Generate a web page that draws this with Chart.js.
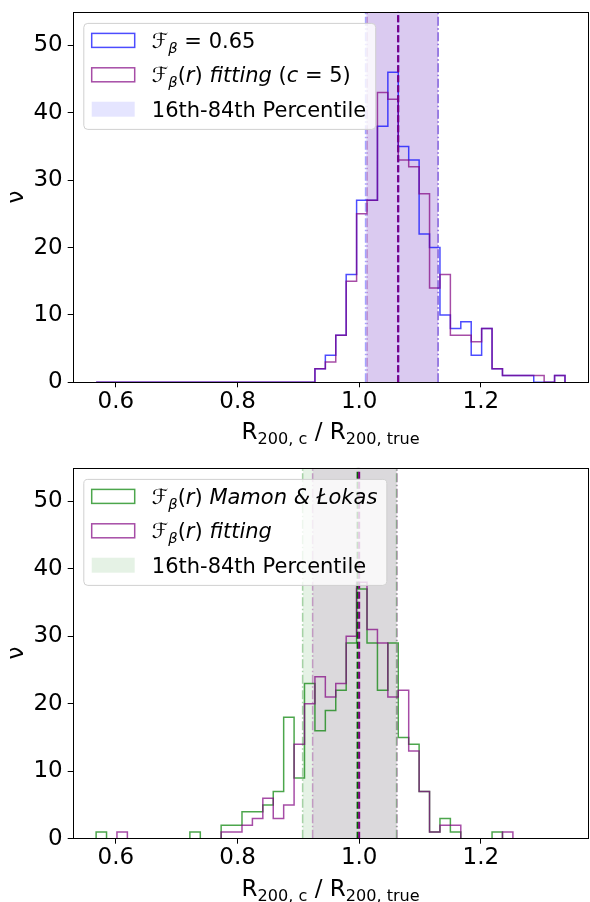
<!DOCTYPE html>
<html>
<head>
<meta charset="utf-8">
<script src="https://cdn.jsdelivr.net/npm/chart.js@4.4.1/dist/chart.umd.min.js"></script>
<style>
    html, body { margin: 0; padding: 0; background: #ffffff; }
    canvas { position: absolute; left: 0; }
</style>
</head>
<body>
<canvas id="top-chart" width="590" height="451" style="top:0px"></canvas>
<canvas id="bottom-chart" width="590" height="451" style="top:451px"></canvas>
<script>
// Shared histogram binning (45 bins)
const BIN_START = 0.5675;
const BIN_WIDTH = 0.01713;

const X_MIN = 0.529;
const X_MAX = 1.377;
const Y_MAX = 55;
const X_TICKS = [0.6, 0.8, 1.0, 1.2];
const Y_TICKS = [0, 10, 20, 30, 40, 50];

// Top panel: counts per bin
const TOP_CONST = [0, 0, 0, 0, 0, 0, 0, 0, 0, 0, 0, 0, 0, 0, 0, 0, 0, 0, 0, 0, 0,
    2, 4, 7, 16, 27, 27, 38, 46, 35, 33, 22, 20, 10, 8, 9, 4, 8, 2, 1, 1, 1, 0, 0, 1];
const TOP_FIT = [0, 0, 0, 0, 0, 0, 0, 0, 0, 0, 0, 0, 0, 0, 0, 0, 0, 0, 0, 0, 0,
    2, 3, 7, 15, 25, 27, 43, 42, 33, 32, 28, 14, 16, 7, 7, 6, 8, 2, 1, 1, 1, 1, 0, 1];
// [16th percentile, median, 84th percentile]
const TOP_CONST_STATS = [1.0105, 1.0641, 1.1298];
const TOP_FIT_STATS = [1.0131, 1.0641, 1.1298];

// Bottom panel: counts per bin
const BOTTOM_ML = [1, 0, 0, 0, 0, 0, 0, 0, 0, 1, 0, 0, 2, 2, 4, 4, 5, 7, 18, 9,
    23, 16, 19, 22, 29, 37, 29, 22, 29, 15, 14, 7, 1, 3, 1, 0, 0, 0, 1, 0, 0, 0, 0, 0, 0];
const BOTTOM_FIT = [0, 0, 1, 0, 0, 0, 0, 0, 0, 0, 0, 0, 1, 1, 2, 3, 6, 3, 5, 14,
    20, 24, 21, 23, 30, 38, 31, 29, 21, 22, 13, 7, 1, 2, 2, 0, 0, 0, 0, 1, 0, 0, 0, 0, 0];
const BOTTOM_ML_STATS = [0.907, 0.9974, 1.0614];
const BOTTOM_FIT_STATS = [0.9234, 1.0, 1.0625];

const FONT = "'DejaVu Sans', 'Liberation Sans', sans-serif";
const TICK_SIZE = 23;
const LEGEND_SIZE = 21;

// Build the step outline of a histogram from its counts
function stepPoints(counts) {
    const pts = [{ x: BIN_START, y: 0 }];
    counts.forEach((c, i) => pts.push({ x: BIN_START + i * BIN_WIDTH, y: c }));
    pts.push({ x: BIN_START + counts.length * BIN_WIDTH, y: 0 });
    return pts;
}

function vline(value, color, width, dash, order) {
    return {
        data: [{ x: value, y: 0 }, { x: value, y: Y_MAX }],
        showLine: true, borderColor: color, borderWidth: width, borderDash: dash,
        pointRadius: 0, fill: false, order: order
    };
}

function band(stats, color) {
    return {
        data: [{ x: stats[0], y: Y_MAX }, { x: stats[2], y: Y_MAX }],
        showLine: true, borderColor: 'transparent', borderWidth: 0,
        backgroundColor: color, pointRadius: 0, fill: 'origin', order: 8
    };
}

function hist(counts, color, order) {
    return {
        data: stepPoints(counts), showLine: true, stepped: true,
        borderColor: color, borderWidth: 1.5, pointRadius: 0, fill: false,
        borderJoinStyle: 'miter', order: order
    };
}

// Draw a list of text runs (italic / subscript) starting at x
function drawRuns(ctx, runs, x, y, size, measureOnly) {
    let cx = x;
    runs.forEach(r => {
        const s = r.sub ? size * 0.7 : size;
        ctx.font = (r.it ? 'italic ' : '') + s + 'px ' + FONT;
        if (!measureOnly) ctx.fillText(r.t, cx, y + (r.sub ? size * 0.22 : 0));
        cx += ctx.measureText(r.t).width;
    });
    return cx - x;
}

const DASH_DOT = [9, 2.5, 1.5, 2.5];
const DASHED = [7, 3];

// axes box, axis titles and legend
function makeDecor(legend) {
    return {
        id: 'decor',
        afterDraw(chart) {
            const ctx = chart.ctx;
            const a = chart.chartArea;
            ctx.save();
            ctx.strokeStyle = '#000';
            ctx.lineWidth = 1;
            ctx.strokeRect(Math.round(a.left) + 0.5, Math.round(a.top) + 0.5,
                Math.round(a.right - a.left) - 1, Math.round(a.bottom - a.top) - 1);

            // y label
            ctx.fillStyle = '#000';
            ctx.font = TICK_SIZE + 'px ' + FONT;
            ctx.save();
            ctx.translate(23.3, (a.top + a.bottom) / 2);
            ctx.rotate(-Math.PI / 2);
            ctx.textAlign = 'center';
            ctx.textBaseline = 'alphabetic';
            ctx.fillText('\u03bd', 0, 0);
            ctx.restore();

            // x label with subscripts
            ctx.textAlign = 'left';
            ctx.textBaseline = 'alphabetic';
            const xl = [
                { t: 'R' }, { t: '200, c', sub: true }, { t: ' / R' }, { t: '200, true', sub: true }
            ];
            const w = drawRuns(ctx, xl, 0, 0, TICK_SIZE, true);
            drawRuns(ctx, xl, (a.left + a.right) / 2 - w / 2, a.bottom + 57, TICK_SIZE, false);

            // legend
            let maxW = 0;
            legend.forEach(e => { maxW = Math.max(maxW, drawRuns(ctx, e.runs, 0, 0, LEGEND_SIZE, true)); });
            const bx = a.left + 10.6, by = a.top + 11.2;
            const bw = 68.5 + maxW + 9, bh = 106;
            ctx.beginPath();
            ctx.roundRect(bx + 0.5, by + 0.5, bw, bh, 4);
            ctx.fillStyle = 'rgba(255,255,255,0.8)';
            ctx.fill();
            ctx.strokeStyle = '#d0d0d0';
            ctx.lineWidth = 1;
            ctx.stroke();
            legend.forEach((e, i) => {
                const cy = by + 17.5 + i * 34.4;
                if (e.fill) {
                    ctx.fillStyle = e.fill;
                    ctx.fillRect(bx + 8.4, cy - 7.5, 43, 15);
                } else {
                    ctx.strokeStyle = e.stroke;
                    ctx.lineWidth = 1.5;
                    ctx.strokeRect(bx + 8.4, cy - 7, 43, 14);
                }
                ctx.fillStyle = '#000';
                drawRuns(ctx, e.runs, bx + 68.5, cy + 7.5, LEGEND_SIZE, false);
            });
            ctx.restore();
        }
    };
}

function makeChart(id, datasets, axTop, axBottom, legend) {
    const canvas = document.getElementById(id);
    const tickFont = { family: FONT, size: TICK_SIZE };
    return new Chart(canvas.getContext('2d'), {
        type: 'scatter',
        data: { datasets: datasets },
        options: {
            responsive: false,
            animation: false,
            devicePixelRatio: 1,
            events: [],
            layout: { padding: { top: axTop, right: 1.5, left: 0, bottom: 0 } },
            plugins: {
                legend: { display: false },
                tooltip: { enabled: false }
            },
            scales: {
                x: {
                    type: 'linear', min: X_MIN, max: X_MAX,
                    afterBuildTicks: s => { s.ticks = X_TICKS.map(v => ({ value: v })); },
                    afterFit: s => {
                        s.height = canvas.height - axBottom;
                        s.paddingLeft = 0; s.paddingRight = 0;
                    },
                    ticks: { font: tickFont, color: '#000', padding: 1, maxRotation: 0,
                        callback: v => v.toFixed(1) },
                    grid: { drawOnChartArea: false, drawTicks: true, tickLength: 5,
                        tickColor: '#000', tickWidth: 1 },
                    border: { display: false }
                },
                y: {
                    type: 'linear', min: 0, max: Y_MAX,
                    afterBuildTicks: s => { s.ticks = Y_TICKS.map(v => ({ value: v })); },
                    afterFit: s => {
                        s.width = 72.7;
                        s.paddingTop = 0; s.paddingBottom = 0;
                    },
                    ticks: { font: tickFont, color: '#000', padding: 5,
                        callback: v => String(v) },
                    grid: { drawOnChartArea: false, drawTicks: true, tickLength: 5,
                        tickColor: '#000', tickWidth: 1 },
                    border: { display: false }
                }
            }
        },
        plugins: [makeDecor(legend)]
    });
}

const F_BETA = [{ t: '\u2131', it: true }, { t: '\u03b2', it: true, sub: true }];

makeChart('top-chart', [
    vline(TOP_FIT_STATS[1], 'rgba(128,0,128,1)', 2, DASHED, 0),
    vline(TOP_CONST_STATS[1], 'rgba(0,0,255,1)', 2, DASHED, 1),
    vline(TOP_CONST_STATS[0], 'rgba(0,0,255,0.35)', 1.5, DASH_DOT, 2),
    vline(TOP_CONST_STATS[2], 'rgba(0,0,255,0.35)', 1.5, DASH_DOT, 2),
    vline(TOP_FIT_STATS[0], 'rgba(128,0,128,0.35)', 1.5, DASH_DOT, 2),
    vline(TOP_FIT_STATS[2], 'rgba(128,0,128,0.35)', 1.5, DASH_DOT, 2),
    hist(TOP_FIT, 'rgba(128,0,128,0.7)', 4),
    hist(TOP_CONST, 'rgba(0,0,255,0.7)', 5),
    band(TOP_FIT_STATS, 'rgba(128,0,128,0.12)'),
    band(TOP_CONST_STATS, 'rgba(0,0,255,0.1)')
], 11.7, 382.3, [
    { stroke: 'rgba(0,0,255,0.7)', runs: F_BETA.concat([{ t: ' = 0.65' }]) },
    { stroke: 'rgba(128,0,128,0.7)', runs: F_BETA.concat([{ t: '(' }, { t: 'r', it: true }, { t: ') ' },
        { t: 'fitting', it: true }, { t: ' (' }, { t: 'c', it: true }, { t: ' = 5)' }]) },
    { fill: 'rgba(0,0,255,0.1)', runs: [{ t: '16th-84th Percentile' }] }
]);

makeChart('bottom-chart', [
    vline(BOTTOM_FIT_STATS[1], 'rgba(128,0,128,1)', 2, DASHED, 0),
    vline(BOTTOM_ML_STATS[1], 'rgba(0,100,0,1)', 2, DASHED, 1),
    vline(BOTTOM_ML_STATS[0], 'rgba(0,128,0,0.35)', 1.5, DASH_DOT, 2),
    vline(BOTTOM_ML_STATS[2], 'rgba(0,128,0,0.35)', 1.5, DASH_DOT, 2),
    vline(BOTTOM_FIT_STATS[0], 'rgba(128,0,128,0.35)', 1.5, DASH_DOT, 2),
    vline(BOTTOM_FIT_STATS[2], 'rgba(128,0,128,0.35)', 1.5, DASH_DOT, 2),
    hist(BOTTOM_FIT, 'rgba(128,0,128,0.7)', 4),
    hist(BOTTOM_ML, 'rgba(0,128,0,0.7)', 5),
    band(BOTTOM_FIT_STATS, 'rgba(140,20,150,0.11)'),
    band(BOTTOM_ML_STATS, 'rgba(0,128,0,0.1)')
], 16.7, 387.7, [
    { stroke: 'rgba(0,128,0,0.7)', runs: F_BETA.concat([{ t: '(' }, { t: 'r', it: true }, { t: ') ' },
        { t: 'Mamon & \u0141okas', it: true }]) },
    { stroke: 'rgba(128,0,128,0.7)', runs: F_BETA.concat([{ t: '(' }, { t: 'r', it: true }, { t: ') ' },
        { t: 'fitting', it: true }]) },
    { fill: 'rgba(0,128,0,0.1)', runs: [{ t: '16th-84th Percentile' }] }
]);
</script>
</body>
</html>
